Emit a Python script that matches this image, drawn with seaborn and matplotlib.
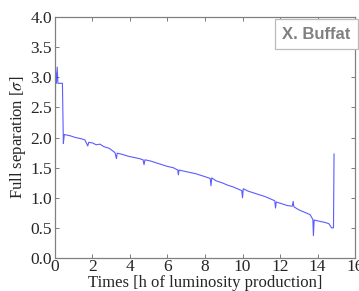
import seaborn as sns
import pandas as pd
import matplotlib
matplotlib.use('Agg')
import matplotlib.pyplot as plt

# hours of luminosity production vs full separation (sigma)
hours = [0.02, 0.03, 0.08, 0.12, 0.16, 0.40, 0.45, 0.50, 0.80, 1.10, 1.40, 1.60, 1.75, 1.80,
         2.00, 2.20, 2.40, 2.60, 2.90, 3.20, 3.28, 3.32, 3.60, 3.90, 4.20, 4.50, 4.70, 4.75,
         4.80, 5.10, 5.40, 5.70, 6.00, 6.30, 6.55, 6.58, 6.62, 6.90, 7.20, 7.50, 7.80, 8.10,
         8.28, 8.32, 8.36, 8.60, 8.90, 9.20, 9.50, 9.80, 9.96, 10.00, 10.04, 10.30, 10.60,
         10.90, 11.20, 11.50, 11.72, 11.76, 11.80, 12.10, 12.40, 12.65, 12.70, 12.74, 13.00,
         13.30, 13.60, 13.75, 13.78, 13.82, 14.10, 14.40, 14.60, 14.75, 14.85, 14.88]
separation = [0.69, 3.10, 2.90, 3.17, 2.90, 2.90, 1.90, 2.05, 2.03, 2.00, 1.98, 1.96, 1.86, 1.92,
              1.91, 1.88, 1.89, 1.85, 1.82, 1.75, 1.65, 1.74, 1.72, 1.69, 1.67, 1.65, 1.63, 1.55,
              1.63, 1.61, 1.58, 1.55, 1.52, 1.50, 1.46, 1.38, 1.46, 1.44, 1.42, 1.40, 1.37, 1.34,
              1.32, 1.20, 1.33, 1.28, 1.25, 1.21, 1.18, 1.14, 1.12, 1.00, 1.15, 1.11, 1.08,
              1.05, 1.02, 0.98, 0.95, 0.83, 0.93, 0.90, 0.87, 0.86, 0.94, 0.85, 0.80,
              0.76, 0.72, 0.64, 0.37, 0.63, 0.61, 0.59, 0.57, 0.50, 0.50, 1.73]

df = pd.DataFrame({'hours': hours, 'separation': separation})

sns.set_style('white')
plt.rcParams['font.family'] = ['Liberation Serif', 'DejaVu Serif']
plt.rcParams['mathtext.fontset'] = 'stix'

fig = plt.figure(figsize=(3.59, 2.91), dpi=100)
ax = fig.add_axes([0.153, 0.1134, 0.836, 0.828])

sns.lineplot(data=df, x='hours', y='separation', ax=ax, color='#3333ff',
             alpha=0.8, linewidth=0.8)

ax.set_xlim(0, 16)
ax.set_ylim(0, 4)
ax.set_xticks(range(0, 17, 2))
ax.set_yticks([0, 0.5, 1, 1.5, 2, 2.5, 3, 3.5, 4])
ax.set_yticklabels(['0.0', '0.5', '1.0', '1.5', '2.0', '2.5', '3.0', '3.5', '4.0'])
ax.tick_params(direction='in', length=3, width=0.6, color='#666666', labelsize=12.5,
               top=True, right=True, bottom=True, left=True, pad=2)
ax.tick_params(axis='x', pad=1)
for s in ax.spines.values():
    s.set_color('#808080')
    s.set_linewidth(0.9)

ax.set_xlabel('Times [h of luminosity production]', fontsize=12, labelpad=0)
ax.set_ylabel(r'Full separation [$\sigma$]', fontsize=12, labelpad=2)

ax.text(0.985, 0.96, 'X. Buffat', transform=ax.transAxes, ha='right', va='top',
        fontsize=12, fontweight='bold', color='#808080', family=['Liberation Sans'],
        bbox=dict(boxstyle='square,pad=0.45', facecolor='white', edgecolor='#bbbbbb',
                  linewidth=0.9))

fig.savefig('out.png', dpi=100)
